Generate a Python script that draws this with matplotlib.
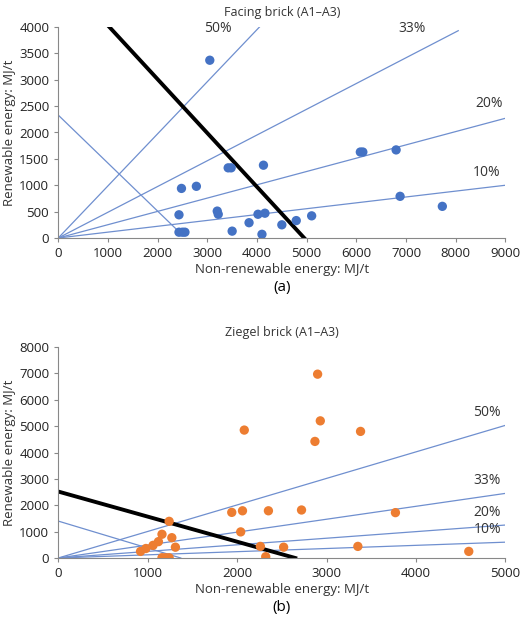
import matplotlib
matplotlib.use("Agg")
import matplotlib.pyplot as plt

plt.rcParams['font.family'] = ['Open Sans', 'DejaVu Sans']
plt.rcParams['font.size'] = 9.5

a_x = [3050,2480,2780,3420,3480,4130,6080,6130,6800,6880,7730,2430,3200,3220,4020,4160,3840,5100,4790,4500,3500,4100,2430,2500,2550]
a_y = [3370,940,980,1330,1330,1380,1630,1630,1670,790,600,440,510,450,450,470,290,420,330,250,130,70,110,110,110]
b_x = [2900,2930,2080,3380,2870,1940,2060,2350,2720,3770,1240,2040,1160,1270,1120,1060,980,920,1310,2260,2520,3350,4590,2320,1160,1200,1240]
b_y = [6970,5200,4850,4800,4420,1730,1790,1790,1820,1720,1390,990,900,770,620,480,360,250,410,440,410,440,250,50,10,10,10]

a_rays = {'50%': (4050, 4000), '33%': (8050, 3930), '20%': (9000, 2270), '10%': (9000, 1000)}
a_lab = {'50%': (3500, 3820), '33%': (7400, 3820), '20%': (8950, 2400), '10%': (8900, 1100)}
b_rays = {'50%': (5000, 5030), '33%': (5000, 2450), '20%': (5000, 1250), '10%': (5000, 600)}
b_lab = {'50%': (4950, 5250), '33%': (4950, 2650), '20%': (4950, 1450), '10%': (4950, 780)}
a_thin = ([0, 2450], [2330, 100]); a_thick = ([1000, 4950], [4030, 0])
b_thin = ([0, 1370], [1400, 0]); b_thick = ([0, 2650], [2520, 0])

fig = plt.figure(figsize=(5.2, 6.2), dpi=100)
blue = '#4472c4'
def panel(rect, xs, ys, col, rays, labs, thin, thick, xlim, ylim, xt, yt, title, sub):
    ax = fig.add_axes(rect)
    for k, (x1, y1) in rays.items():
        ax.plot([0, x1], [0, y1], color='#6f8fcf', lw=0.9)
        ax.text(*labs[k], k, ha='right', va='bottom', fontsize=10, color='#333333')
    ax.plot(*thin, color='#6f8fcf', lw=0.9)
    ax.plot(*thick, color='black', lw=2.8)
    ax.scatter(xs, ys, s=45, color=col, zorder=3, edgecolors='none')
    ax.set_xlim(*xlim); ax.set_ylim(*ylim)
    ax.set_xticks(xt); ax.set_yticks(yt)
    for s in ['top', 'right']:
        ax.spines[s].set_visible(False)
    ax.tick_params(direction='out', length=3, color='#888888', labelcolor='#222222', labelsize=9.5)
    for s in ['left', 'bottom']:
        ax.spines[s].set_color('#888888')
    ax.set_title(title, fontsize=9, color='#333333', pad=8)
    ax.set_xlabel('Non-renewable energy: MJ/t', fontsize=9.5, color='#333333', labelpad=2)
    ax.set_ylabel('Renewable energy: MJ/t', fontsize=9.5, color='#333333', labelpad=2)
    ax.text(0.5, -0.2, sub, transform=ax.transAxes, ha='center', va='top', fontsize=11)
    return ax

panel([0.112, 1-238/620, 0.86, 211/620], a_x, a_y, blue, a_rays, a_lab, a_thin, a_thick,
      (0, 9000), (0, 4000), range(0, 9001, 1000), range(0, 4001, 500), 'Facing brick (A1–A3)', '(a)')
panel([0.112, 1-558/620, 0.86, 211/620], b_x, b_y, '#ed7d31', b_rays, b_lab, b_thin, b_thick,
      (0, 5000), (0, 8000), range(0, 5001, 1000), range(0, 8001, 1000), 'Ziegel brick (A1–A3)', '(b)')
fig.savefig('out.png')
